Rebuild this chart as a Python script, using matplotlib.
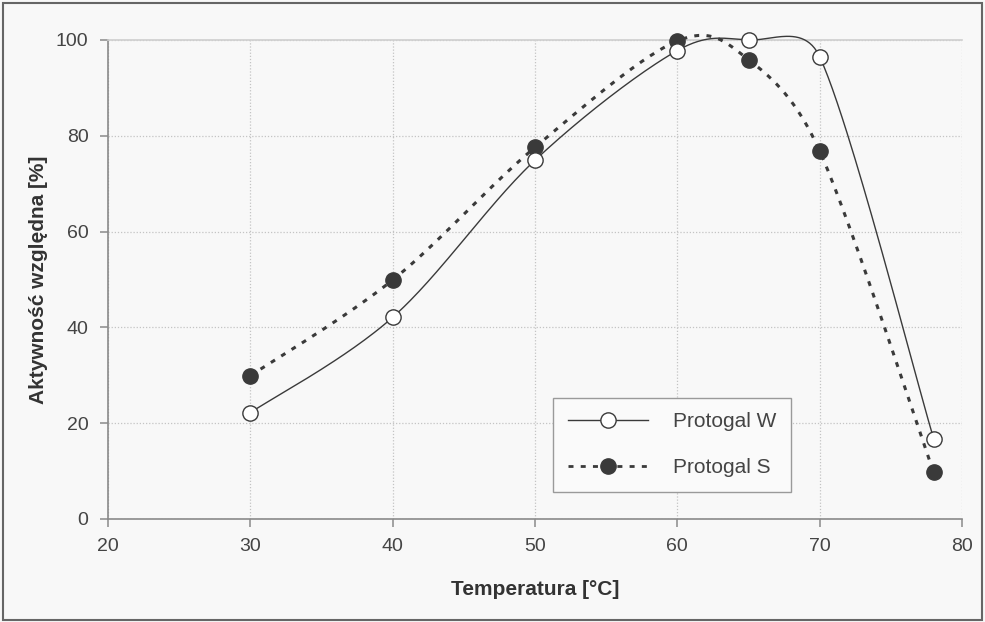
import matplotlib.pyplot as plt
from matplotlib.patches import Rectangle
from matplotlib.lines import Line2D
import numpy as np

plt.rcParams['font.family'] = ['Liberation Sans', 'DejaVu Sans']

temp = [30, 40, 50, 60, 65, 70, 78]
protogal_w = [22.2, 42.1, 74.9, 97.8, 100.0, 96.5, 16.8]
protogal_s = [29.9, 49.9, 77.6, 99.8, 95.9, 76.8, 9.8]

x_ticks = [20, 30, 40, 50, 60, 70, 80]
y_ticks = [0, 20, 40, 60, 80, 100]

line_col = '#3a3a3a'
axis_col = '#8a8a8a'
grid_col = '#c4c4c4'

# pixels per data unit, used so the smoothing works in screen space like Excel
PX_X = 854 / 60.0
PX_Y = 479 / 100.0


def smooth(xs, ys, n=50):
    # Excel style smoothed line: bezier segments, control arm capped at half the segment
    p = np.column_stack([np.asarray(xs) * PX_X, np.asarray(ys) * PX_Y]).astype(float)
    out = []
    for i in range(len(p) - 1):
        p0 = p[i - 1] if i > 0 else p[i]
        p1, p2 = p[i], p[i + 1]
        p3 = p[i + 2] if i + 2 < len(p) else p[i + 1]
        d12 = np.linalg.norm(p2 - p1)
        d02 = np.linalg.norm(p2 - p0)
        d13 = np.linalg.norm(p3 - p1)
        f1 = 1 / 6.0 if d02 / 6.0 < d12 / 2.0 else d12 / (2.0 * d02)
        f2 = 1 / 6.0 if d13 / 6.0 < d12 / 2.0 else d12 / (2.0 * d13)
        c1 = p1 + (p2 - p0) * f1
        c2 = p2 - (p3 - p1) * f2
        t = np.linspace(0, 1, n)[:, None]
        seg = ((1 - t) ** 3) * p1 + 3 * ((1 - t) ** 2) * t * c1 + 3 * (1 - t) * t ** 2 * c2 + t ** 3 * p2
        out.append(seg if i == 0 else seg[1:])
    out = np.vstack(out)
    return out[:, 0] / PX_X, out[:, 1] / PX_Y


fig = plt.figure(figsize=(9.85, 6.22), dpi=100)
fig.patch.set_facecolor('#f8f8f8')
ax = fig.add_axes([0.1096, 0.1656, 0.8671, 0.7701])
ax.set_facecolor('#f8f8f8')

# outer frame of the figure
fig.patches.append(Rectangle((0.003, 0.004), 0.994, 0.991, transform=fig.transFigure,
                             fill=False, edgecolor='#666666', linewidth=1.5))

sx, sy = smooth(temp, protogal_s)
ax.plot(sx, sy, color=line_col, linewidth=2.2, linestyle=(0, (1.6, 2.4)), zorder=3, clip_on=False)
ax.plot(temp, protogal_s, 'o', color=line_col, markersize=11, zorder=4, clip_on=False)

wx, wy = smooth(temp, protogal_w)
ax.plot(wx, wy, color=line_col, linewidth=1.0, zorder=3, clip_on=False)
ax.plot(temp, protogal_w, 'o', markerfacecolor='white', markeredgecolor=line_col,
        markeredgewidth=1.0, markersize=11, zorder=5, clip_on=False)

ax.set_xlim(20, 80)
ax.set_ylim(0, 100)
ax.set_xticks(x_ticks)
ax.set_yticks(y_ticks)
ax.grid(True, color=grid_col, linestyle=(0, (1, 1.5)), linewidth=0.9)
ax.set_axisbelow(True)

ax.spines['right'].set_visible(False)
ax.spines['top'].set_color('#cfcfcf')
ax.spines['top'].set_linewidth(1.2)
ax.spines['left'].set_color(axis_col)
ax.spines['bottom'].set_color(axis_col)
ax.spines['left'].set_linewidth(1.2)
ax.spines['bottom'].set_linewidth(1.2)
ax.tick_params(direction='out', length=6, width=1.1, color=axis_col,
               labelsize=14, labelcolor='#444444', pad=8)

ax.set_xlabel('Temperatura [°C]', fontsize=15, fontweight='bold', color='#333333', labelpad=18)
ax.set_ylabel('Aktywność względna [%]', fontsize=15, fontweight='bold', color='#333333', labelpad=6)

handles = [
    Line2D([], [], color=line_col, linewidth=1.0, marker='o', markerfacecolor='white',
           markeredgecolor=line_col, markersize=11),
    Line2D([], [], color=line_col, linewidth=2.0, linestyle=(0, (1.8, 2.6)), marker='o',
           markersize=11),
]
leg = ax.legend(handles, ['Protogal W', 'Protogal S'], loc='upper left',
                bbox_to_anchor=(0.521, 0.253), fontsize=15, handlelength=3.85,
                handletextpad=1.2, borderpad=0.7, borderaxespad=0, labelspacing=1.3,
                fancybox=False, framealpha=1, edgecolor='#9a9a9a', facecolor='#fafafa')
for t in leg.get_texts():
    t.set_color('#444444')
leg.get_frame().set_linewidth(1.0)

fig.savefig('out.png', dpi=100, facecolor=fig.get_facecolor())
